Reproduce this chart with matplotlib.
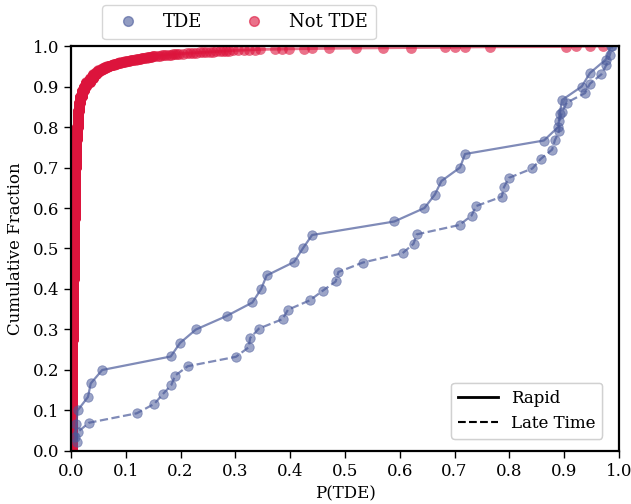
import numpy as np
import matplotlib
matplotlib.use("Agg")
import matplotlib.pyplot as plt
from matplotlib.lines import Line2D

plt.rcParams["font.family"] = ["DejaVu Serif"]

# P(TDE) of the TDE sample, rapid classifier (30 objects)
tde_rapid = [0.008, 0.010, 0.012, 0.031, 0.036, 0.057, 0.182, 0.199, 0.228, 0.284,
             0.331, 0.347, 0.357, 0.407, 0.423, 0.440, 0.590, 0.645, 0.664, 0.676,
             0.710, 0.719, 0.863, 0.889, 0.892, 0.896, 0.932, 0.947, 0.976, 0.985]

# P(TDE) of the TDE sample, late-time classifier (43 objects)
tde_late = [0.011, 0.012, 0.033, 0.120, 0.152, 0.167, 0.183, 0.190, 0.213, 0.301,
            0.324, 0.327, 0.343, 0.386, 0.396, 0.436, 0.459, 0.483, 0.488, 0.532,
            0.605, 0.625, 0.631, 0.709, 0.731, 0.739, 0.786, 0.790, 0.799, 0.842,
            0.857, 0.878, 0.883, 0.891, 0.891, 0.896, 0.905, 0.938, 0.947, 0.968,
            0.977, 0.983, 0.988]

# P(TDE) of the non-TDE sample, given as distinct values and how many objects share each
not_tde_p = [0.001, 0.0015, 0.002, 0.0025, 0.003, 0.004, 0.005, 0.006, 0.007, 0.008,
             0.009, 0.010, 0.011, 0.012, 0.013, 0.015, 0.017, 0.020, 0.024, 0.028,
             0.034, 0.041, 0.045, 0.050,
             0.054, 0.058, 0.062, 0.066, 0.070, 0.074, 0.078, 0.082, 0.086, 0.090,
             0.094, 0.098,
             0.102, 0.106, 0.110, 0.114, 0.118, 0.122, 0.126, 0.130, 0.134, 0.138,
             0.142, 0.146, 0.150, 0.154, 0.158, 0.162, 0.166, 0.170, 0.174, 0.178,
             0.182, 0.186, 0.190, 0.194, 0.198,
             0.205, 0.211, 0.217, 0.223, 0.229, 0.235, 0.241, 0.247, 0.253, 0.259,
             0.265, 0.271, 0.277, 0.283, 0.289, 0.296,
             0.305, 0.315, 0.325, 0.335, 0.345, 0.372, 0.385, 0.397, 0.425, 0.440,
             0.470, 0.520, 0.570, 0.620, 0.682, 0.701, 0.719, 0.765, 0.904, 0.922,
             0.947, 0.971]
not_tde_count = [100, 100, 200, 150, 150, 150, 150, 150, 140, 110,
                 80, 60, 60, 40, 40, 40, 30, 30, 20, 20,
                 20, 20, 10, 10,
                 5, 5, 5, 4, 4, 4, 3, 3, 3, 3,
                 3, 2,
                 2, 2, 2, 2, 2, 2, 2, 2, 2, 2,
                 2, 2, 2, 1, 1, 1, 1, 1, 1, 1,
                 1, 1, 1, 1, 1,
                 1, 1, 1, 1, 1, 1, 1, 1, 1, 1,
                 1, 1, 1, 1, 1, 1,
                 1, 1, 1, 1, 1, 1, 1, 1, 1, 1,
                 1, 1, 1, 1, 1, 1, 1, 1, 1, 1,
                 1, 1]

tde_color = "#4A5A9A"
not_color = "#DC143C"


def cdf(values):
    v = np.sort(np.asarray(values, dtype=float))
    return v, np.arange(1, len(v) + 1) / len(v)


fig = plt.figure(figsize=(6.31, 5.04), dpi=100)
ax = fig.add_axes([0.1125, 0.1052, 0.8685, 0.8035])

# Non-TDE population
nx, ny = cdf(np.repeat(not_tde_p, not_tde_count))
ax.plot(nx, ny, "-", color=not_color, lw=2, alpha=0.6)
ax.plot(nx, ny, "o", color=not_color, ms=7.8, alpha=0.6, mec="none")

# TDE population
rx, ry = cdf(tde_rapid)
ax.plot(rx, ry, "-", color=tde_color, lw=1.6, alpha=0.7)
ax.plot(rx, ry, "o", color=tde_color, ms=6.8, alpha=0.55, mec=tde_color, mew=0.6)
lx, ly = cdf(tde_late)
ax.plot(lx, ly, "--", color=tde_color, lw=1.6, alpha=0.7)
ax.plot(lx, ly, "o", color=tde_color, ms=6.8, alpha=0.55, mec=tde_color, mew=0.6)

ax.set_xlim(0, 1)
ax.set_ylim(0, 1)
ticks = np.round(np.arange(0, 1.01, 0.1), 1)
ax.set_xticks(ticks)
ax.set_yticks(ticks)
ax.tick_params(labelsize=12, length=5, width=1)
for s in ax.spines.values():
    s.set_linewidth(1.6)
    s.set_color("black")
ax.set_xlabel("P(TDE)", fontsize=12, labelpad=4)
ax.set_ylabel("Cumulative Fraction", fontsize=12, labelpad=6)

style_handles = [Line2D([], [], color="black", lw=2, ls="-"),
                 Line2D([], [], color="black", lw=1.5, ls="--")]
leg1 = ax.legend(style_handles, ["Rapid", "Late Time"], loc="lower right",
                 fontsize=12, handlelength=2.4, borderpad=0.4,
                 bbox_to_anchor=(0.985, 0.01))
ax.add_artist(leg1)

pop_handles = [Line2D([], [], color=tde_color, marker="o", ls="none", ms=7, alpha=0.6),
               Line2D([], [], color=not_color, marker="o", ls="none", ms=7, alpha=0.6)]
fig.legend(pop_handles, ["TDE", "Not TDE"], loc="upper left", ncol=2,
           bbox_to_anchor=(0.162, 0.99), borderaxespad=0, fontsize=13,
           columnspacing=1.9, handletextpad=0.9, borderpad=0.45)

fig.savefig("out.png", dpi=100)
